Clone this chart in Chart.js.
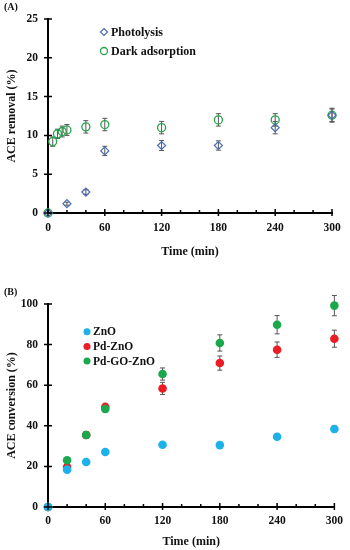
<!DOCTYPE html>
<html lang="en">
<head>
<meta charset="UTF-8" />
<title>ACE removal and conversion</title>
<script src="https://cdn.jsdelivr.net/npm/chart.js"></script>
<style>
  body { margin: 0; width: 350px; height: 550px; position: relative; background: #fff; overflow: hidden;
         font-family: "Liberation Serif", "Times New Roman", serif; }
  .box { position: absolute; left: 0; width: 350px; height: 270px; }
  .tag { position: absolute; left: 4px; font-weight: bold; font-size: 10px; color: #111; }
</style>
</head>
<body>
<div class="box" style="top:0"><canvas id="chartA"></canvas></div>
<div class="box" style="top:280px"><canvas id="chartB"></canvas></div>
<div class="tag" style="top:1px">(A)</div>
<div class="tag" style="top:286px">(B)</div>

<script>
// (A) ACE removal (%)
const timesPhoto = [0, 20, 40, 60, 120, 180, 240, 300];
const photolysis = [0, 1.2, 2.7, 8.0, 8.7, 8.7, 11.0, 12.6];
const photolysisErr = [0, 0.2, 0.3, 0.6, 0.65, 0.6, 0.8, 0.8];

const timesDark = [0, 5, 10, 15, 20, 40, 60, 120, 180, 240, 300];
const darkAdsorption = [0, 9.2, 10.2, 10.5, 10.7, 11.1, 11.4, 11.0, 12.0, 12.0, 12.6];
const darkErr = [0, 0.6, 0.6, 0.7, 0.7, 0.8, 0.8, 0.8, 0.8, 0.8, 0.9];

// (B) ACE conversion (%)
const timesB = [0, 20, 40, 60, 120, 180, 240, 300];
const zno = [0, 18.4, 22.2, 27.1, 30.7, 30.5, 34.6, 38.4];
const znoErr = [0, 1, 1, 1, 1, 1, 1.2, 1.5];
const pdZno = [0, 19.7, 35.5, 49.3, 58.4, 70.9, 77.5, 82.9];
const pdZnoErr = [0, 1, 1.5, 1.5, 3, 3.5, 3.8, 4.2];
const pdGoZno = [0, 23.0, 35.5, 48.3, 65.5, 80.8, 89.8, 99.2];
const pdGoZnoErr = [0, 1, 1.5, 1.5, 3, 4, 4.5, 5];

const pts = (xs, ys) => xs.map((x, i) => ({ x: x, y: ys[i] }));

Chart.defaults.font.family = '"Liberation Serif", "Times New Roman", serif';
Chart.defaults.font.weight = 'bold';
Chart.defaults.color = '#111';

// vertical error bars with small caps, drawn under the markers
const errorBars = {
  id: 'errorBars',
  beforeDatasetsDraw(chart) {
    const { ctx, scales: { x, y } } = chart;
    ctx.save();
    ctx.strokeStyle = '#555';
    ctx.lineWidth = 1;
    chart.data.datasets.forEach(ds => {
      (ds.errors || []).forEach((e, i) => {
        if (!e) return;
        const p = ds.data[i];
        const px = x.getPixelForValue(p.x);
        const y1 = y.getPixelForValue(p.y - e);
        const y2 = y.getPixelForValue(p.y + e);
        ctx.beginPath();
        ctx.moveTo(px, y1); ctx.lineTo(px, y2);
        ctx.moveTo(px - 2.5, y1); ctx.lineTo(px + 2.5, y1);
        ctx.moveTo(px - 2.5, y2); ctx.lineTo(px + 2.5, y2);
        ctx.stroke();
      });
    });
    ctx.restore();
  }
};

// tick marks crossing the axes, minor ticks every 20 min
const axisTicks = {
  id: 'axisTicks',
  afterDraw(chart) {
    const { ctx, chartArea: a, scales: { x, y } } = chart;
    ctx.save();
    ctx.strokeStyle = '#000';
    ctx.lineWidth = 1.5;
    ctx.beginPath();
    y.ticks.forEach(t => {
      const py = y.getPixelForValue(t.value);
      ctx.moveTo(a.left - 4, py); ctx.lineTo(a.left + 4, py);
    });
    for (let v = x.min; v <= x.max; v += 20) {
      const px = x.getPixelForValue(v);
      const major = v % 60 === 0;
      ctx.moveTo(px, a.bottom - (major ? 4 : 3));
      ctx.lineTo(px, a.bottom + (major ? 3 : 0));
    }
    ctx.stroke();
    ctx.restore();
  }
};

// legend drawn inside the plot area
const insideLegend = {
  id: 'insideLegend',
  afterDraw(chart, args, opts) {
    const { ctx } = chart;
    ctx.save();
    ctx.font = 'bold ' + opts.size + 'px "Liberation Serif", serif';
    ctx.textBaseline = 'middle';
    chart.data.datasets.forEach((ds, row) => {
      const cx = opts.x, cy = opts.y + row * opts.gap;
      const r = opts.r;
      ctx.beginPath();
      if (ds.pointStyle === 'rectRot') {
        ctx.moveTo(cx, cy - r); ctx.lineTo(cx + r, cy); ctx.lineTo(cx, cy + r); ctx.lineTo(cx - r, cy); ctx.closePath();
      } else {
        ctx.arc(cx, cy, r, 0, Math.PI * 2);
      }
      if (ds.backgroundColor !== 'transparent') { ctx.fillStyle = ds.backgroundColor; ctx.fill(); }
      if (ds.borderWidth) { ctx.strokeStyle = ds.borderColor; ctx.lineWidth = ds.borderWidth; ctx.stroke(); }
      ctx.fillStyle = '#111';
      ctx.fillText(ds.label, cx + opts.textOffset, cy + 0.5);
    });
    ctx.restore();
  }
};

function axes(opts) {
  return {
    x: {
      type: 'linear', min: 0, max: 300,
      ticks: { stepSize: 60, padding: opts.xTickPad, font: { size: 11.5 } },
      grid: { display: false, drawTicks: false },
      border: { color: '#000', width: 2 },
      title: { display: true, text: 'Time (min)', font: { size: 12 }, padding: { top: 0, bottom: opts.xTitlePad } },
      afterFit(s) { s.height = opts.xHeight; }
    },
    y: {
      min: 0, max: opts.yMax,
      ticks: { stepSize: opts.yStep, padding: 10, font: { size: 11.5 } },
      grid: { display: false, drawTicks: false },
      border: { color: '#000', width: 2 },
      title: { display: true, text: opts.yTitle, font: { size: 12 }, padding: { top: 5, bottom: 0 } },
      afterFit(s) { s.width = 48; }
    }
  };
}

new Chart(document.getElementById('chartA'), {
  type: 'scatter',
  data: {
    datasets: [
      {
        label: 'Photolysis', data: pts(timesPhoto, photolysis), errors: photolysisErr,
        pointStyle: 'rectRot', pointRadius: 4, backgroundColor: 'transparent',
        borderColor: '#4a6cb2', borderWidth: 1.2, clip: false
      },
      {
        label: 'Dark adsorption', data: pts(timesDark, darkAdsorption), errors: darkErr,
        pointStyle: 'circle', pointRadius: 4, backgroundColor: 'transparent',
        borderColor: '#27a24a', borderWidth: 1.3, clip: false
      }
    ]
  },
  options: {
    responsive: true, maintainAspectRatio: false, animation: false,
    layout: { padding: { top: 19, right: 18, bottom: 0, left: 0 } },
    scales: axes({ yMax: 25, yStep: 5, yTitle: 'ACE removal (%)', xHeight: 57, xTickPad: 8, xTitlePad: 11 }),
    plugins: {
      legend: { display: false }, tooltip: { enabled: false },
      insideLegend: { x: 104, y: 32, gap: 19, r: 3.5, size: 12, textOffset: 7 }
    }
  },
  plugins: [errorBars, axisTicks, insideLegend]
});

new Chart(document.getElementById('chartB'), {
  type: 'scatter',
  data: {
    datasets: [
      {
        label: 'ZnO', data: pts(timesB, zno), errors: znoErr, order: 1,
        pointStyle: 'circle', pointRadius: 4.3, backgroundColor: '#1db1ec', borderColor: '#1db1ec',
        borderWidth: 0, clip: false
      },
      {
        label: 'Pd-ZnO', data: pts(timesB, pdZno), errors: pdZnoErr, order: 3,
        pointStyle: 'circle', pointRadius: 4.3, backgroundColor: '#ec1c24', borderColor: '#ec1c24',
        borderWidth: 0, clip: false
      },
      {
        label: 'Pd-GO-ZnO', data: pts(timesB, pdGoZno), errors: pdGoZnoErr, order: 2,
        pointStyle: 'circle', pointRadius: 4.3, backgroundColor: '#1aa84c', borderColor: '#1aa84c',
        borderWidth: 0, clip: false
      }
    ]
  },
  options: {
    responsive: true, maintainAspectRatio: false, animation: false,
    layout: { padding: { top: 24, right: 12, bottom: 0, left: 0 } },
    scales: axes({ yMax: 100, yStep: 20, yTitle: 'ACE conversion (%)', xHeight: 43, xTickPad: 7, xTitlePad: 1 }),
    plugins: {
      legend: { display: false }, tooltip: { enabled: false },
      insideLegend: { x: 87, y: 51.7, gap: 14.7, r: 3.5, size: 11.5, textOffset: 6 }
    }
  },
  plugins: [errorBars, axisTicks, insideLegend]
});
</script>
</body>
</html>
